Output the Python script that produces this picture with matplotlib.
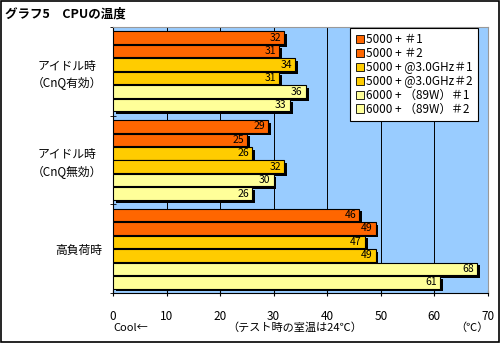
import matplotlib
matplotlib.use("Agg")
import matplotlib.pyplot as plt
import matplotlib.patheffects as pe
import numpy as np

plt.rcParams['font.family'] = ['Noto Sans CJK JP', 'DejaVu Sans']

categories = ["アイドル時\n（CnQ有効）", "アイドル時\n（CnQ無効）", "高負荷時"]
series = ["5000 + ＃1", "5000 + ＃2", "5000 + @3.0GHz＃1",
          "5000 + @3.0GHz＃2", "6000 + （89W）＃1", "6000 + （89W）＃2"]
values = [
    [32, 29, 46],
    [31, 25, 49],
    [34, 26, 47],
    [31, 32, 49],
    [36, 30, 68],
    [33, 26, 61],
]
colors = ["#FF6600", "#FF6600", "#FFCC00", "#FFCC00", "#FFFF99", "#FFFF99"]
xticks = [0, 10, 20, 30, 40, 50, 60, 70]

fig = plt.figure(figsize=(5, 3.43), dpi=100)
fig.patch.set_facecolor("white")
ax = fig.add_axes([0.226, 0.146, 0.75, 0.775])
ax.set_facecolor("#99CCFF")

w = 0.152
shadow = [pe.SimplePatchShadow(offset=(2, -2), shadow_rgbFace="black", alpha=1.0), pe.Normal()]
for s in range(len(series)):
    ys = np.arange(len(categories)) + (s - 2.5) * w
    bars = ax.barh(ys, values[s], height=w * 0.93, color=colors[s],
                   edgecolor="black", linewidth=0.8, label=series[s], zorder=3)
    for b in bars:
        b.set_path_effects(shadow)
    for y, v in zip(ys, values[s]):
        ax.text(v - 0.6, y, str(v), ha="right", va="center", fontsize=7.5,
                color="black", zorder=4)

ax.set_xlim(0, 70)
ax.set_ylim(2.5, -0.5)
ax.set_xticks(xticks)
ax.set_xticklabels([str(t) for t in xticks], fontsize=8.5)
ax.tick_params(axis="x", direction="inout", length=5, pad=10)
ax.set_yticks(range(len(categories)))
ax.set_yticklabels(categories, fontsize=8.5, linespacing=1.4, multialignment="center")
ax.set_yticks([-0.5, 0.5, 1.5, 2.5], minor=True)
ax.tick_params(axis="y", which="major", length=0, pad=8)
ax.tick_params(axis="y", which="minor", direction="inout", length=5)
ax.grid(axis="x", color="black", linewidth=0.7, zorder=1)
ax.set_axisbelow(True)
for sp in ["top", "right"]:
    ax.spines[sp].set_color("#999999")
for sp in ["left", "bottom"]:
    ax.spines[sp].set_color("black")

leg = ax.legend(loc="upper right", bbox_to_anchor=(0.99, 1.02), fontsize=8.5,
                frameon=True, fancybox=False, edgecolor="black",
                handlelength=0.7, handleheight=0.7, handletextpad=0.2,
                labelspacing=0.08, borderpad=0.45, framealpha=1)
leg.get_frame().set_linewidth(0.8)
for h in leg.legend_handles:
    h.set_path_effects([])
    h.set_edgecolor("black")
    h.set_linewidth(0.6)

fig.text(0.01, 0.96, "グラフ5　CPUの温度", fontsize=9, fontweight="bold", va="center")
fig.text(0.226, 0.045, "Cool←", fontsize=8, va="center")
fig.text(0.59, 0.045, "（テスト時の室温は24℃）", fontsize=8, va="center", ha="center")
fig.text(0.978, 0.045, "（℃）", fontsize=8, va="center", ha="right")

border = plt.Rectangle((0.002, 0.003), 0.996, 0.994, transform=fig.transFigure,
                       fill=False, edgecolor="black", linewidth=1.2)
fig.patches.append(border)

fig.savefig("out.png", dpi=100)
